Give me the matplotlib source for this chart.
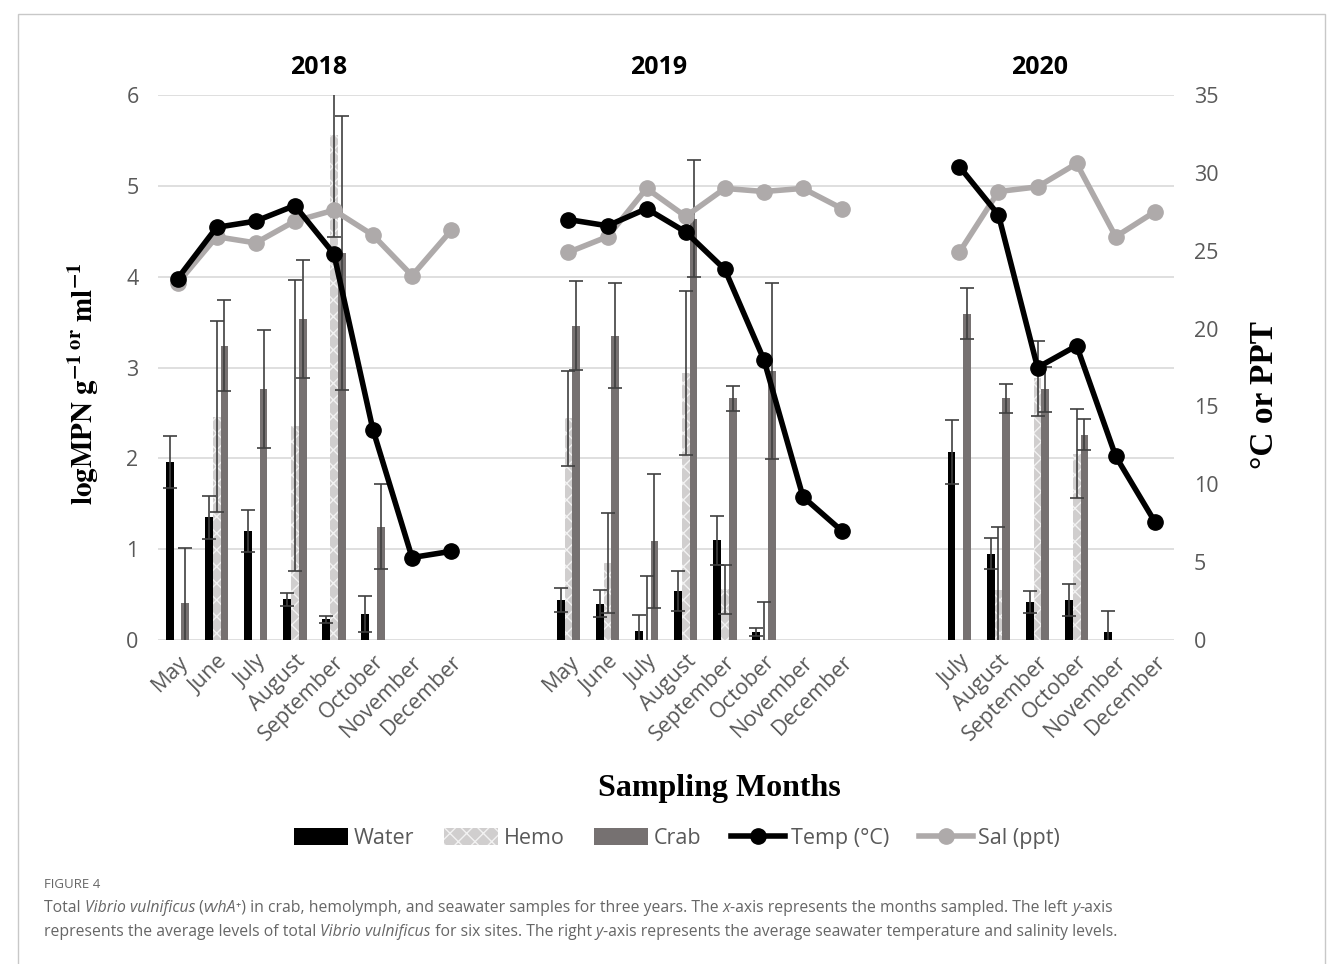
import numpy as np
import matplotlib
matplotlib.use('Agg')
import matplotlib.pyplot as plt
from matplotlib.patches import Patch, Rectangle
from matplotlib.lines import Line2D

# ---- data ----
years = ['2018', '2019', '2020']
months = {
    '2018': ['May', 'June', 'July', 'August', 'September', 'October', 'November', 'December'],
    '2019': ['May', 'June', 'July', 'August', 'September', 'October', 'November', 'December'],
    '2020': ['July', 'August', 'September', 'October', 'November', 'December'],
}
nan = np.nan
water = {
    '2018': [1.96, 1.35, 1.20, 0.45, 0.23, 0.29, nan, nan],
    '2019': [0.44, 0.40, 0.10, 0.54, 1.10, 0.09, nan, nan],
    '2020': [2.07, 0.95, 0.42, 0.44, 0.09, nan],
}
water_err = {
    '2018': [0.29, 0.24, 0.23, 0.07, 0.04, 0.20, nan, nan],
    '2019': [0.13, 0.15, 0.18, 0.22, 0.27, 0.04, nan, nan],
    '2020': [0.35, 0.17, 0.12, 0.18, 0.23, nan],
}
hemo = {
    '2018': [nan, 2.46, nan, 2.36, 5.56, nan, nan, nan],
    '2019': [2.44, 0.85, 0.0, 2.94, 0.56, 0.0, nan, nan],
    '2020': [nan, 0.55, 2.88, 2.05, nan, nan],
}
hemo_err = {
    '2018': [nan, 1.05, nan, 1.60, 1.12, nan, nan, nan],
    '2019': [0.52, 0.55, 0.70, 0.90, 0.27, 0.42, nan, nan],
    '2020': [nan, 0.69, 0.41, 0.49, nan, nan],
}
crab = {
    '2018': [0.41, 3.24, 2.76, 3.53, 4.26, 1.25, nan, nan],
    '2019': [3.46, 3.35, 1.09, 4.64, 2.66, 2.96, nan, nan],
    '2020': [3.59, 2.66, 2.76, 2.26, nan, nan],
}
crab_err = {
    '2018': [0.60, 0.50, 0.65, 0.65, 1.51, 0.47, nan, nan],
    '2019': [0.49, 0.58, 0.74, 0.64, 0.14, 0.97, nan, nan],
    '2020': [0.28, 0.16, 0.25, 0.17, nan, nan],
}
temp = {
    '2018': [23.2, 26.5, 26.9, 27.9, 24.8, 13.5, 5.3, 5.7],
    '2019': [27.0, 26.6, 27.7, 26.2, 23.8, 18.0, 9.2, 7.0],
    '2020': [30.4, 27.3, 17.5, 18.9, 11.8, 7.6],
}
sal = {
    '2018': [22.9, 25.9, 25.5, 26.9, 27.6, 26.0, 23.4, 26.3],
    '2019': [24.9, 25.9, 29.0, 27.2, 29.0, 28.8, 29.0, 27.7],
    '2020': [24.9, 28.8, 29.1, 30.6, 25.9, 27.5],
}

# slot where each year starts (two empty slots between years)
start = {'2018': 0, '2019': 10, '2020': 20}
title_pos = {'2018': 3.6, '2019': 12.3, '2020': 22.05}

C_WATER = '#000000'
C_HEMO = '#d0cece'
C_CRAB = '#767171'
C_SAL = '#aeaaaa'
C_TXT = '#595959'
C_ERR = '#3f3f3f'

plt.rcParams['font.family'] = ['Open Sans', 'DejaVu Sans']
plt.rcParams['hatch.linewidth'] = 1.0

fig = plt.figure(figsize=(13.33, 9.64), dpi=100)
ax = fig.add_axes([0.1185, 0.336, 0.7625, 0.5655])
ax2 = ax.twinx()

w = 0.2
ticks, ticklabels = [], []
for yr in years:
    x = start[yr] + np.arange(len(months[yr]))
    ticks += list(x)
    ticklabels += months[yr]
    ax.bar(x - w, water[yr], w, color=C_WATER, zorder=2)
    ax.bar(x, hemo[yr], w, color=C_HEMO, edgecolor='#f2f2f2', hatch='xx',
           linewidth=0, zorder=2)
    ax.bar(x + w, crab[yr], w, color=C_CRAB, zorder=2)
    for off, v, e in [(-w, water[yr], water_err[yr]), (0, hemo[yr], hemo_err[yr]),
                      (w, crab[yr], crab_err[yr])]:
        ax.errorbar(x + off, v, yerr=e, fmt='none', ecolor=C_ERR, elinewidth=1.2,
                    capsize=5, capthick=1.2, zorder=3)
    ax2.plot(x, sal[yr], color=C_SAL, lw=4, marker='o', ms=11, zorder=4)
    ax2.plot(x, temp[yr], color='black', lw=4, marker='o', ms=11, zorder=5)
    ax.text(title_pos[yr], 6.3, yr, ha='center', va='center', fontsize=18,
            fontweight='bold', color='black')

ax.set_xlim(-0.5, 25.5)
ax.set_ylim(0, 6)
ax2.set_ylim(0, 35)
ax.set_yticks(range(0, 7))
ax2.set_yticks(range(0, 36, 5))
ax.set_xticks(ticks)
ax.set_xticklabels(ticklabels, rotation=45, ha='right', rotation_mode='anchor')
ax.grid(axis='y', color='#d9d9d9', lw=1.2, zorder=0)
ax.set_axisbelow(True)
for a in (ax, ax2):
    for s in a.spines.values():
        s.set_visible(False)
    a.tick_params(length=0, labelsize=15.5, labelcolor=C_TXT)
ax.tick_params(axis='x', pad=8)
ax.tick_params(axis='y', pad=14)
ax2.tick_params(axis='y', pad=14)

ax.set_ylabel(r'$\mathbf{logMPN\ g^{-1\ or}\ ml^{-1}}$', fontsize=21,
              math_fontfamily='stix')
ax.yaxis.set_label_coords(-0.056, 0.47)
ax2.set_ylabel('°C or PPT', fontsize=24, family='Liberation Serif',
               fontweight='bold')
ax2.yaxis.set_label_coords(1.073, 0.45)
fig.text(0.54, 0.182, 'Sampling Months', ha='center', va='center', fontsize=23,
         family='Liberation Serif', fontweight='bold')

handles = [
    Patch(facecolor=C_WATER),
    Patch(facecolor=C_HEMO, edgecolor='#f2f2f2', hatch='xx', linewidth=0),
    Patch(facecolor=C_CRAB),
    Line2D([], [], color='black', lw=4, marker='o', ms=11),
    Line2D([], [], color=C_SAL, lw=4, marker='o', ms=11),
]
labels = ['Water', 'Hemo', 'Crab', 'Temp (°C)', 'Sal (ppt)']
leg = fig.legend(handles, labels, loc='center', bbox_to_anchor=(0.508, 0.130), ncol=5,
                 frameon=False, fontsize=15.5, handlelength=2.5, handleheight=0.8,
                 columnspacing=1.4, handletextpad=0.25)
for t in leg.get_texts():
    t.set_color(C_TXT)

# frame around figure
fig.add_artist(Rectangle((18 / 1333, -0.01), (1325 - 18) / 1333, (964 - 14) / 964 + 0.01,
                         transform=fig.transFigure, fill=False, edgecolor='#c8c8c8', lw=1))

# caption
cap_color = '#666666'
fig.text(44 / 1333, 1 - 885 / 964, 'FIGURE 4', fontsize=9.5, color=cap_color, va='center')

renderer = fig.canvas.get_renderer()


def draw_runs(x, y, runs):
    for txt, style in runs:
        t = fig.text(x, y, txt, style=style, fontsize=11.3, color=cap_color, va='center')
        bb = t.get_window_extent(renderer=renderer)
        x += bb.width / fig.bbox.width


draw_runs(44 / 1333, 1 - 908 / 964, [
    ('Total ', 'normal'), ('Vibrio vulnificus', 'italic'), (' (', 'normal'),
    ('vvhA', 'italic'),
    ('⁺) in crab, hemolymph, and seawater samples for three years. The ', 'normal'),
    ('x', 'italic'), ('-axis represents the months sampled. The left ', 'normal'),
    ('y', 'italic'), ('-axis', 'normal')])
draw_runs(44 / 1333, 1 - 932 / 964, [
    ('represents the average levels of total ', 'normal'),
    ('Vibrio vulnificus', 'italic'), (' for six sites. The right ', 'normal'),
    ('y', 'italic'),
    ('-axis represents the average seawater temperature and salinity levels.', 'normal')])

fig.savefig('out.png', dpi=100)
